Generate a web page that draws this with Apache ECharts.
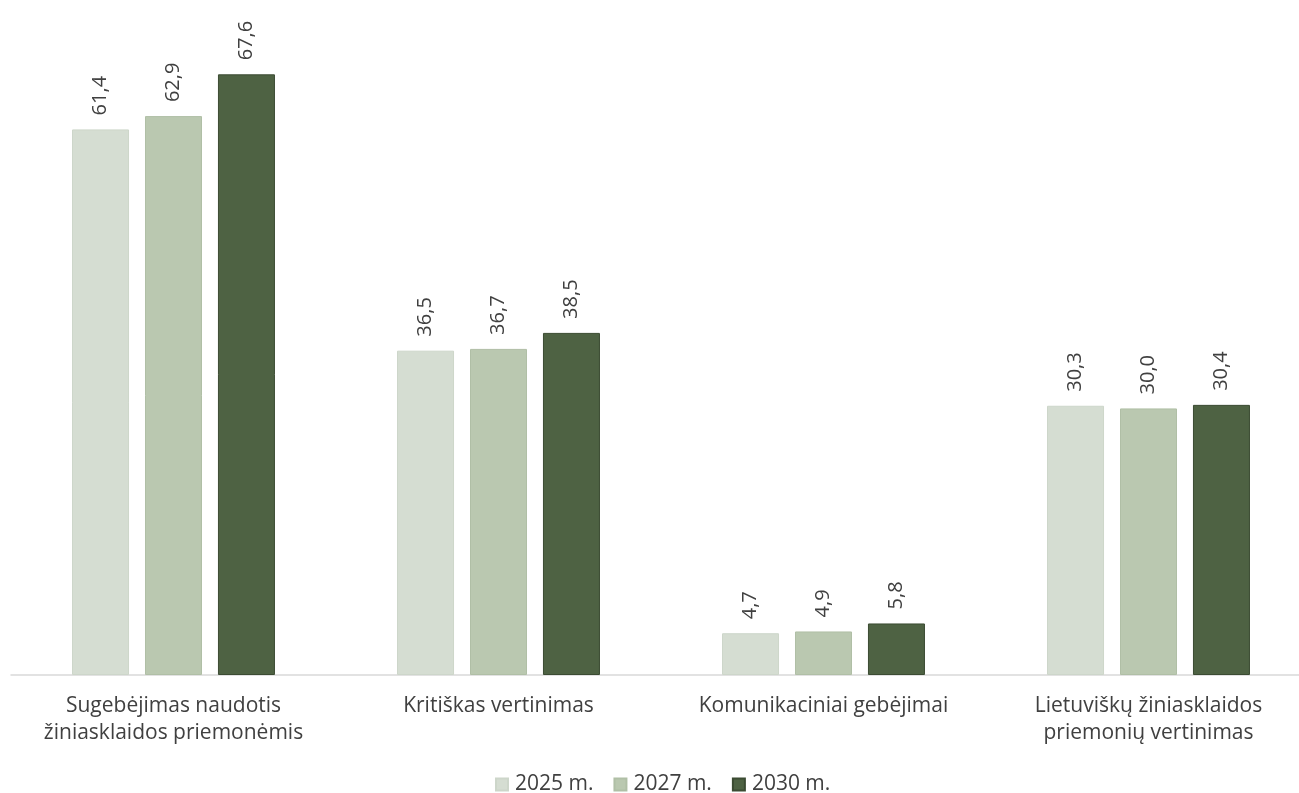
<!DOCTYPE html>
<html lang="lt">
<head>
    <meta charset="UTF-8">
    <title>Chart</title>
    <script src="https://cdn.jsdelivr.net/npm/echarts@6/dist/echarts.min.js"></script>
    <style>
        html, body { margin: 0; padding: 0; background: #fff; }
        #chart { width: 1299px; height: 793px; }
    </style>
</head>
<body>
<div id="chart"></div>
<script>
    const categories = [
        'Sugebėjimas naudotis\nžiniasklaidos priemonėmis',
        'Kritiškas vertinimas',
        'Komunikaciniai gebėjimai',
        'Lietuviškų žiniasklaidos\npriemonių vertinimas'
    ];
    const years = ['2025 m.', '2027 m.', '2030 m.'];
    const v2025 = [61.4, 36.5, 4.7, 30.3];
    const v2027 = [62.9, 36.7, 4.9, 30.0];
    const v2030 = [67.6, 38.5, 5.8, 30.4];
    const colors = ['#d5ddd2', '#bac8b0', '#4e6243'];
    const borders = ['#cdd6ca', '#b0bfa6', '#3b4b32'];

    const font = '"Open Sans", "Noto Sans", sans-serif';
    const myChart = echarts.init(document.getElementById('chart'));

    const mk = (name, data, i) => ({
        name: name,
        type: 'bar',
        data: data,
        barWidth: 57,
        barGap: '28%',
        itemStyle: { color: colors[i], borderColor: borders[i], borderWidth: 1 },
        label: {
            show: true,
            position: 'top',
            rotate: 90,
            align: 'left',
            verticalAlign: 'middle',
            distance: 14,
            color: '#404040',
            fontSize: 20,
            fontFamily: font,
            formatter: p => p.value.toFixed(1).replace('.', ',')
        }
    });

    myChart.setOption({
        animation: false,
        color: colors,
        grid: { left: 11, width: 1300, top: 53, bottom: 118, outerBoundsMode: 'none', containLabel: false },
        legend: {
            top: 769,
            left: 490,
            itemWidth: 12,
            itemHeight: 12,
            itemGap: 20,
            icon: 'rect',
            textStyle: { color: '#404040', fontSize: 21, fontFamily: font, padding: [0, 0, 0, 2] },
            data: years
        },
        xAxis: {
            type: 'category',
            data: categories,
            axisLine: { lineStyle: { color: '#d9d9d9', width: 1.5 } },
            axisTick: { show: false },
            axisLabel: {
                interval: 0,
                color: '#404040',
                fontSize: 21,
                fontFamily: font,
                lineHeight: 27,
                margin: 18
            }
        },
        yAxis: {
            type: 'value',
            min: 0,
            max: 70,
            show: false,
            splitLine: { show: false }
        },
        series: [mk(years[0], v2025, 0), mk(years[1], v2027, 1), mk(years[2], v2030, 2)]
    });
</script>
</body>
</html>
